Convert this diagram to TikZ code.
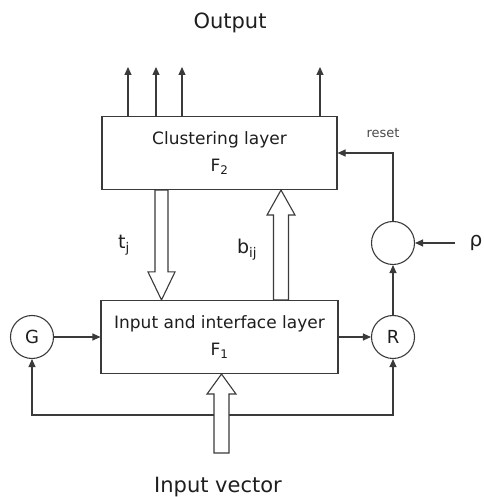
\documentclass[tikz,border=0pt]{standalone}
\usepackage{fontspec}
\setmainfont{DejaVu Sans}
\usetikzlibrary{positioning,arrows.meta,calc}
\definecolor{ink}{HTML}{1E1E1E}
\definecolor{wire}{HTML}{3A3A3A}
\definecolor{muted}{HTML}{4A4A4A}
\tikzset{
  flow/.style={-{Triangle[length=8pt,width=7pt]}, line width=1.1pt, color=wire},
  layer/.style={draw=wire, line width=1.1pt, fill=white, align=center, text=ink,
    font=\fontsize{17}{27}\selectfont, minimum width=#1, minimum height=73pt, inner sep=0pt},
  unit/.style={circle, draw=wire, line width=1.1pt, minimum size=43pt, inner sep=0pt,
    font=\fontsize{18}{18}\selectfont, text=ink},
  lbl/.style={font=\fontsize{#1}{#1}\selectfont, text=ink, inner sep=0pt},
  fat/.style={draw=wire, line width=1.1pt, fill=white, line join=miter},
}
\newcommand\fatarrow[5]{%
  \coordinate (hb) at ($(#2)!#3!(#1)$);
  \draw[fat] ($(#1)!#4!90:(#2)$) -- ($(hb)!#4!-90:(#1)$) -- ($(hb)!#5!-90:(#1)$) -- (#2)
    -- ($(hb)!#5!90:(#1)$) -- ($(hb)!#4!90:(#1)$) -- ($(#1)!#4!-90:(#2)$) -- cycle;
}

\begin{document}
\begin{tikzpicture}[x=1pt,y=1pt]
  \useasboundingbox (0,0) rectangle (483,497);
  \node[layer=235pt] (f2) at (219.5,344) {Clustering layer\\F\textsubscript{2}};
  \node[layer=237pt] (f1) at (219.5,160) {Input and interface layer\\F\textsubscript{1}};
  \node[unit] (g) at (32,160) {G};
  \node[unit] (r) at (393,160) {R};
  \node[unit] (cmp) at (393,254) {};
  \node[lbl=20, minimum width=42pt] (rho) at (476,254) {ρ};
  \node[lbl=21] (out) at (230,474) {Output};
  \node[lbl=21] (inp) at (218,10) {Input vector};
  \node[lbl=19] (tj) at (124,252) {t\textsubscript{j}};
  \node[lbl=19] (bij) at (247,247) {b\textsubscript{ij}};
  \draw[flow] (g) -- (f1);
  \draw[flow] (f1) -- (r);
  \draw[flow] (r) -- (cmp);
  \draw[flow] (rho) -- (cmp);
  \draw[flow] (cmp) |- node[pos=0.59, above=15pt, lbl=13, text=muted] {reset} (f2);
  \foreach \x [count=\i] in {128,156,182,320}{
    \coordinate (o\i) at (\x,430);
    \draw[flow] (o\i |- f2.north) -- (o\i);
  }
  \coordinate (fb) at (221.5,82);
  \draw[flow] (fb) -| (g);
  \draw[flow] (fb) -| (r);
  \coordinate (tjA) at (161.5,0 |- f2.south);
  \coordinate (tjB) at (161.5,0 |- f1.north);
  \fatarrow{tjA}{tjB}{28pt}{6.5pt}{13.5pt}
  \coordinate (bA) at (281,0 |- f1.north);
  \coordinate (bB) at (281,0 |- f2.south);
  \fatarrow{bA}{bB}{25pt}{7.5pt}{14pt}
  \coordinate (iA) at (221.5,44);
  \coordinate (iB) at (221.5,0 |- f1.south);
  \fatarrow{iA}{iB}{20pt}{7.5pt}{14.5pt}
\end{tikzpicture}
\end{document}
